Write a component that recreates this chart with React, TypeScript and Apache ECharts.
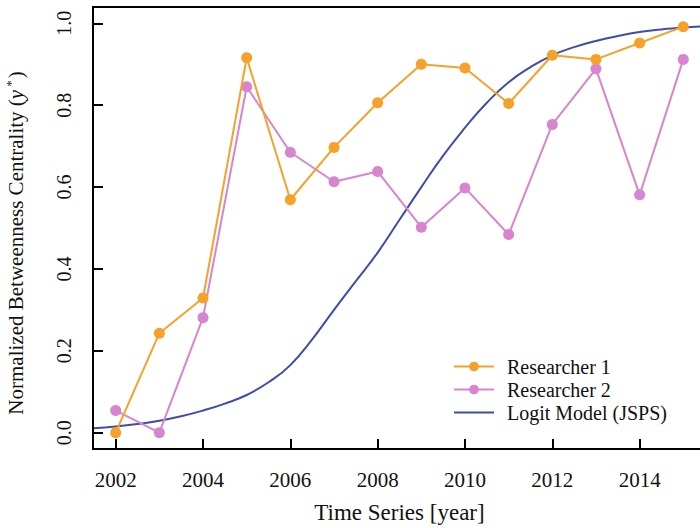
import React, { useEffect, useRef } from "react";
import * as echarts from "echarts";

const years = [2002, 2003, 2004, 2005, 2006, 2007, 2008, 2009, 2010, 2011, 2012, 2013, 2014, 2015];
const researcher1 = [0.0, 0.243, 0.329, 0.916, 0.569, 0.697, 0.806, 0.9, 0.891, 0.804, 0.922, 0.912, 0.952, 0.992];
const researcher2 = [0.054, 0.0, 0.281, 0.845, 0.685, 0.613, 0.638, 0.502, 0.598, 0.484, 0.753, 0.889, 0.581, 0.912];

const logitYears = [
  2001.5, 2002, 2002.5, 2003, 2003.5, 2004, 2004.5, 2005, 2005.5, 2006, 2006.5, 2007, 2007.5, 2008,
  2008.5, 2009, 2009.5, 2010, 2010.5, 2011, 2011.5, 2012, 2012.5, 2013, 2013.5, 2014, 2014.5, 2015, 2015.5,
];
const logitValues = [
  0.011, 0.015, 0.021, 0.029, 0.04, 0.054, 0.071, 0.092, 0.123, 0.165, 0.228, 0.3, 0.37, 0.44,
  0.52, 0.6, 0.677, 0.745, 0.806, 0.856, 0.893, 0.922, 0.942, 0.957, 0.969, 0.979, 0.985, 0.99, 0.993,
];

const xTicks = [2002, 2004, 2006, 2008, 2010, 2012, 2014];
const yTicks = [0, 0.2, 0.4, 0.6, 0.8, 1.0];

const FONT = "'Liberation Serif', 'DejaVu Serif', serif";
const ORANGE = "#F5A12A";
const ORCHID = "#D884CE";
const BLUE = "#3F4CA9";

export default function App() {
  const ref = useRef<HTMLDivElement>(null);
  useEffect(() => {
    if (!ref.current) return;
    const chart = echarts.init(ref.current, undefined, { renderer: "svg" });
    chart.setOption({
      animation: false,
      backgroundColor: "#ffffff",
      textStyle: { fontFamily: FONT, color: "#111" },
      grid: {
        left: 93,
        top: 7,
        width: 613,
        height: 442,
        containLabel: false,
        outerBoundsMode: "none",
        show: true,
        borderColor: "#000",
        borderWidth: 2,
        backgroundColor: "transparent",
      },
      xAxis: {
        type: "value",
        min: 2001.48,
        max: 2015.52,
        name: "Time Series [year]",
        nameLocation: "middle",
        nameGap: 52,
        nameTextStyle: { fontFamily: FONT, fontSize: 23, color: "#111" },
        axisLine: { show: true, onZero: false, lineStyle: { color: "#000", width: 2 } },
        splitLine: { show: false },
        axisTick: {
          show: true,
          inside: true,
          length: 10,
          customValues: xTicks,
          lineStyle: { color: "#000", width: 2 },
        },
        axisLabel: {
          customValues: xTicks,
          fontFamily: FONT,
          fontSize: 21,
          color: "#111",
          margin: 20,
          formatter: (v: number) => String(Math.round(v)),
        },
      },
      yAxis: {
        type: "value",
        min: -0.04,
        max: 1.04,
        name: "Normalized Betweenness Centrality ({it|y}{sup|*})",
        nameLocation: "middle",
        nameRotate: 90,
        nameGap: 66,
        nameTextStyle: {
          fontFamily: FONT,
          fontSize: 21,
          color: "#111",
          padding: [0, 30, 0, 0],
          rich: {
            it: { fontFamily: FONT, fontSize: 21, fontStyle: "italic", color: "#111", padding: [0, 3, 0, 0] },
            sup: { fontFamily: FONT, fontSize: 13, color: "#111", verticalAlign: "top", padding: [0, 2, 10, 0] },
          },
        },
        axisLine: { show: true, onZero: false, lineStyle: { color: "#000", width: 2 } },
        splitLine: { show: false },
        axisTick: {
          show: true,
          inside: true,
          length: 10,
          customValues: yTicks,
          lineStyle: { color: "#000", width: 2 },
        },
        axisLabel: {
          customValues: yTicks,
          rotate: 90,
          fontFamily: FONT,
          fontSize: 20,
          color: "#111",
          margin: 19,
          formatter: (v: number) => v.toFixed(1),
        },
      },
      legend: {
        orient: "vertical",
        left: 448,
        top: 350,
        itemWidth: 40,
        itemHeight: 12,
        itemGap: 0,
        data: [
          "Researcher 1",
          "Researcher 2",
          { name: "Logit Model (JSPS)", itemStyle: { color: "rgba(0,0,0,0)", opacity: 0, borderWidth: 0 } },
        ],
        textStyle: {
          fontFamily: FONT,
          fontSize: 20,
          color: "#111",
          lineHeight: 23,
          padding: [0, 0, 0, 8],
        },
      },
      series: [
        {
          name: "Logit Model (JSPS)",
          type: "line",
          data: logitYears.map((x, i) => [x, logitValues[i]]),
          smooth: 0.5,
          symbol: "none",
          showSymbol: false,
          lineStyle: { color: BLUE, width: 2 },
          itemStyle: { color: BLUE },
          z: 2,
        },
        {
          name: "Researcher 2",
          type: "line",
          data: years.map((x, i) => [x, researcher2[i]]),
          symbol: "circle",
          symbolSize: 11,
          lineStyle: { color: ORCHID, width: 2 },
          itemStyle: { color: ORCHID },
          z: 3,
        },
        {
          name: "Researcher 1",
          type: "line",
          data: years.map((x, i) => [x, researcher1[i]]),
          symbol: "circle",
          symbolSize: 11,
          lineStyle: { color: ORANGE, width: 2 },
          itemStyle: { color: ORANGE },
          z: 4,
        },
      ],
    });
    return () => chart.dispose();
  }, []);
  return (
    <div
      ref={ref}
      style={{ position: "fixed", left: 0, top: 0, width: 700, height: 528, background: "#fff" }}
    />
  );
}
